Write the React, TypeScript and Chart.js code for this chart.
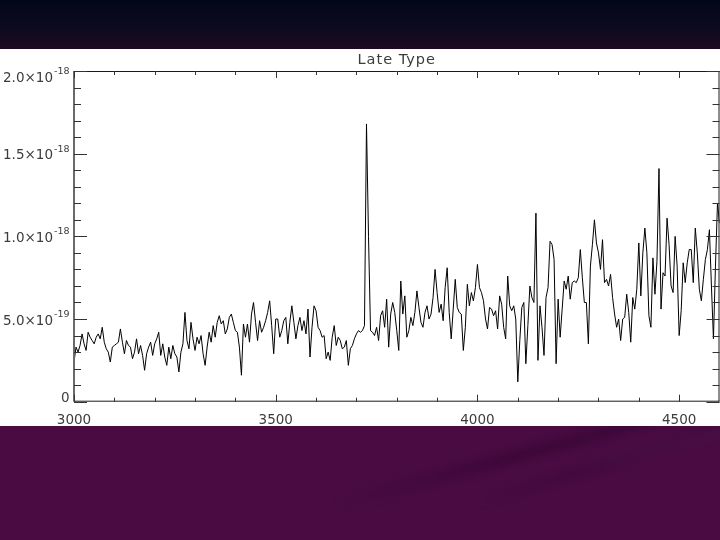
import { useEffect, useRef } from 'react';
import { Chart, registerables } from 'chart.js';

Chart.register(...registerables);

// ---- chart content ----
const TITLE = 'Late Type';

// Flux in units of 1e-19, sampled every 5 Å, in four segments
const WAVE_STEP = 5;
const segStarts = [3000, 3400, 3800, 4200];

const flux3000 = [
  2.4, 3.3, 3.0, 3.4, 4.1, 3.5, 3.1, 4.2, 3.9, 3.7,
  3.5, 3.9, 4.1, 3.8, 4.5, 3.6, 3.2, 3.0, 2.4, 3.3,
  3.4, 3.5, 3.6, 4.4, 3.6, 2.9, 3.7, 3.4, 3.3, 2.6,
  3.0, 3.8, 2.9, 3.4, 2.8, 1.9, 2.9, 3.3, 3.6, 2.8,
  3.5, 3.8, 4.2, 2.8, 3.5, 2.7, 2.2, 3.3, 2.6, 3.4,
  2.9, 2.7, 1.8, 3.0, 3.5, 5.4, 3.7, 3.2, 4.8, 3.8,
  3.1, 3.9, 3.5, 4.0, 2.9, 2.2, 3.3, 4.2, 3.6, 4.6,
  3.9, 4.8, 5.2, 4.7, 4.9, 4.1, 4.4, 5.1, 5.3, 4.8,
];

const flux3400 = [
  4.3, 4.2, 3.3, 1.6, 4.7, 3.9, 4.7, 3.6, 5.3, 6.0,
  4.8, 3.7, 4.9, 4.2, 4.5, 4.9, 5.4, 6.1, 4.6, 2.9,
  5.0, 5.0, 3.9, 4.3, 4.9, 5.1, 3.5, 4.8, 5.8, 4.8,
  3.8, 4.6, 5.1, 4.3, 4.9, 4.1, 5.6, 2.7, 4.5, 5.8,
  5.5, 4.5, 4.3, 3.9, 4.0, 2.6, 3.0, 2.5, 3.9, 4.6,
  3.4, 3.9, 3.7, 3.2, 3.3, 3.7, 2.2, 3.2, 3.4, 3.8,
  4.1, 4.3, 4.2, 4.3, 4.6, 16.8, 10.0, 4.3, 4.2, 4.0,
  4.5, 3.7, 5.2, 5.5, 4.5, 6.2, 3.3, 5.3, 6.0, 5.4,
];

const flux3800 = [
  4.3, 3.1, 7.3, 5.3, 6.4, 3.9, 4.3, 5.1, 4.6, 5.4,
  6.7, 5.7, 4.8, 4.5, 5.4, 5.8, 5.0, 5.3, 6.3, 8.0,
  6.6, 5.4, 5.9, 4.9, 6.9, 8.1, 5.4, 3.8, 5.6, 7.4,
  5.7, 5.4, 5.3, 3.1, 4.5, 7.1, 5.8, 6.6, 6.1, 6.9,
  8.3, 6.9, 6.6, 6.1, 5.0, 4.4, 5.7, 5.6, 5.2, 5.5,
  4.4, 6.4, 5.9, 4.5, 3.8, 7.6, 5.8, 5.5, 5.8, 5.0,
  1.2, 3.7, 5.7, 6.0, 2.3, 4.6, 7.0, 6.3, 6.0, 11.4,
  2.5, 5.8, 4.5, 2.8, 6.3, 6.9, 9.7, 9.5, 8.6, 2.3,
];

const flux4200 = [
  6.2, 3.9, 5.6, 7.3, 6.8, 7.6, 6.2, 7.2, 7.3, 7.2,
  7.5, 9.2, 7.5, 6.0, 6.0, 3.5, 8.2, 9.5, 11.0, 9.6,
  9.0, 8.0, 9.8, 7.2, 7.4, 7.0, 7.7, 6.3, 5.3, 4.5,
  5.0, 3.7, 5.0, 5.1, 6.5, 5.4, 3.6, 6.3, 5.6, 6.8,
  9.6, 6.4, 9.0, 10.5, 9.0, 5.2, 4.5, 8.7, 6.5, 8.5,
  14.1, 5.6, 7.8, 7.6, 11.1, 9.5, 7.0, 6.6, 10.0, 8.2,
  4.0, 5.5, 8.4, 7.2, 8.4, 9.2, 9.2, 7.2, 10.5, 9.0,
  6.8, 6.1, 7.4, 8.6, 9.2, 10.4, 7.0, 3.8, 8.2, 12.0,
  10.8,
];

const X_MIN = 3000;
const X_MAX = 4600;
const Y_MIN = 0;
const Y_MAX = 20;

const xMajorTicks = [3000, 3500, 4000, 4500];
const xTickLabels = ['3000', '3500', '4000', '4500'];
const xMinorTicks = [
  3100, 3200, 3300, 3400, 3600, 3700, 3800, 3900,
  4100, 4200, 4300, 4400, 4600,
];

const yMajorTicks = [0, 5, 10, 15, 20];
const yTickMantissa = ['0', '5.0×10', '1.0×10', '1.5×10', '2.0×10'];
const yTickExponent = ['', '-19', '-18', '-18', '-18'];
const yMinorTicks = [1, 2, 3, 4, 6, 7, 8, 9, 11, 12, 13, 14, 16, 17, 18, 19];

// ---- build data table from the arrays ----
const fluxSegments = [flux3000, flux3400, flux3800, flux4200];
const spectrum: { x: number; y: number }[] = [];
fluxSegments.forEach((seg, s) => {
  seg.forEach((v, i) => {
    spectrum.push({ x: segStarts[s] + i * WAVE_STEP, y: v });
  });
});

const FONT = '"DejaVu Sans", "Liberation Sans", sans-serif';
const TEXT_COLOR = '#3c3c3c';

const axesPlugin = {
  id: 'idlAxes',
  afterDatasetsDraw(chart: any) {
    const { ctx, chartArea: a, scales } = chart;
    const xs = scales.x;
    const ys = scales.y;
    ctx.save();

    // frame
    ctx.strokeStyle = '#1a1a1a';
    ctx.lineWidth = 1;
    ctx.beginPath();
    ctx.moveTo(a.left, a.top + 0.5);
    ctx.lineTo(a.right, a.top + 0.5);
    ctx.moveTo(a.right - 0.5, a.top);
    ctx.lineTo(a.right - 0.5, a.bottom);
    ctx.moveTo(a.left, a.bottom - 0.5);
    ctx.lineTo(a.right, a.bottom - 0.5);
    ctx.stroke();
    ctx.strokeStyle = '#6a6a6a';
    ctx.lineWidth = 2;
    ctx.beginPath();
    ctx.moveTo(a.left, a.top);
    ctx.lineTo(a.left, a.bottom);
    ctx.stroke();

    // y ticks (inward, both sides)
    ctx.lineWidth = 1;
    ctx.strokeStyle = '#333';
    const yTick = (v: number, len: number) => {
      const py = Math.round(ys.getPixelForValue(v)) + 0.5;
      ctx.beginPath();
      ctx.moveTo(a.left, py);
      ctx.lineTo(a.left + len, py);
      ctx.moveTo(a.right, py);
      ctx.lineTo(a.right - len, py);
      ctx.stroke();
    };
    yMajorTicks.forEach((v) => yTick(v, 13));
    yMinorTicks.forEach((v) => yTick(v, 7));

    // x ticks (inward, top and bottom)
    const xTick = (v: number, len: number) => {
      const px = Math.round(xs.getPixelForValue(v)) + 0.5;
      ctx.beginPath();
      ctx.moveTo(px, a.top);
      ctx.lineTo(px, a.top + len);
      ctx.moveTo(px, a.bottom);
      ctx.lineTo(px, a.bottom - len);
      ctx.stroke();
    };
    xMajorTicks.forEach((v) => xTick(v, 7));
    xMinorTicks.forEach((v) => xTick(v, 4));

    // x labels
    ctx.fillStyle = TEXT_COLOR;
    ctx.font = `13.5px ${FONT}`;
    ctx.textAlign = 'center';
    ctx.textBaseline = 'alphabetic';
    xMajorTicks.forEach((v, i) => {
      ctx.fillText(xTickLabels[i], xs.getPixelForValue(v), a.bottom + 22.5);
    });

    // y labels with exponents
    const rightEdge = a.left - 4.5;
    yMajorTicks.forEach((v, i) => {
      const py = ys.getPixelForValue(v);
      const base = Math.min(Math.max(py + 5.5, a.top + 10.7), a.bottom);
      ctx.font = `9.5px ${FONT}`;
      const exp = yTickExponent[i];
      const ew = exp ? ctx.measureText(exp).width : 0;
      if (exp) {
        ctx.textAlign = 'left';
        ctx.fillText(exp, rightEdge - ew, base - 7.5);
      }
      ctx.font = `13.5px ${FONT}`;
      ctx.textAlign = 'right';
      ctx.fillText(yTickMantissa[i], rightEdge - ew - (exp ? 1 : 0), base);
    });

    // title
    ctx.font = `14.5px ${FONT}`;
    ctx.textAlign = 'center';
    try {
      (ctx as any).letterSpacing = '1px';
    } catch (e) {}
    ctx.fillText(TITLE, (a.left + a.right) / 2, a.top - 7.5);
    ctx.restore();
  },
};

const streakStyle = (
  left: number,
  top: number,
  width: number,
  height: number,
  angle: number,
  color: string
): any => ({
  position: 'absolute',
  left,
  top,
  width,
  height,
  transform: `rotate(${angle}deg)`,
  transformOrigin: 'left center',
  background: `linear-gradient(90deg, rgba(0,0,0,0) 0%, ${color} 45%, ${color} 100%)`,
  filter: 'blur(5px)',
});

export default function App() {
  const canvasRef = useRef<HTMLCanvasElement>(null);

  useEffect(() => {
    const prev = document.body.style.margin;
    document.body.style.margin = '0';
    const chart = new Chart(canvasRef.current as HTMLCanvasElement, {
      type: 'line',
      data: {
        datasets: [
          {
            data: spectrum,
            borderColor: '#000000',
            borderWidth: 1,
            pointRadius: 0,
            tension: 0,
            fill: false,
          },
        ],
      },
      options: {
        animation: false,
        responsive: false,
        events: [],
        parsing: false as any,
        layout: { padding: { left: 74, right: 0.5, top: 22, bottom: 24.3 } },
        scales: {
          x: { type: 'linear', min: X_MIN, max: X_MAX, display: false },
          y: { type: 'linear', min: Y_MIN, max: Y_MAX, display: false },
        },
        plugins: {
          legend: { display: false },
          tooltip: { enabled: false },
          title: { display: false },
        },
      },
      plugins: [axesPlugin],
    });
    return () => {
      chart.destroy();
      document.body.style.margin = prev;
    };
  }, []);

  return (
    <div
      style={{
        position: 'fixed',
        left: 0,
        top: 0,
        width: 720,
        height: 540,
        overflow: 'hidden',
        background: '#490b42',
      }}
    >
      <div
        style={{
          position: 'absolute',
          left: 0,
          top: 0,
          width: 720,
          height: 49,
          background: 'linear-gradient(180deg, #020718 0%, #0c0a1e 50%, #1e0a22 100%)',
        }}
      />
      <div style={streakStyle(330, 500, 420, 12, -15, 'rgba(35,0,35,0.35)')} />
      <div style={streakStyle(470, 500, 300, 10, -17, 'rgba(35,0,35,0.3)')} />
      <div style={streakStyle(560, 470, 200, 8, -15, 'rgba(120,60,110,0.15)')} />
      <div
        style={{
          position: 'absolute',
          left: 0,
          top: 49,
          width: 720,
          height: 377,
          background: '#ffffff',
        }}
      >
        <canvas
          ref={canvasRef}
          width={720}
          height={377}
          style={{ display: 'block', width: 720, height: 377 }}
        />
      </div>
    </div>
  );
}
